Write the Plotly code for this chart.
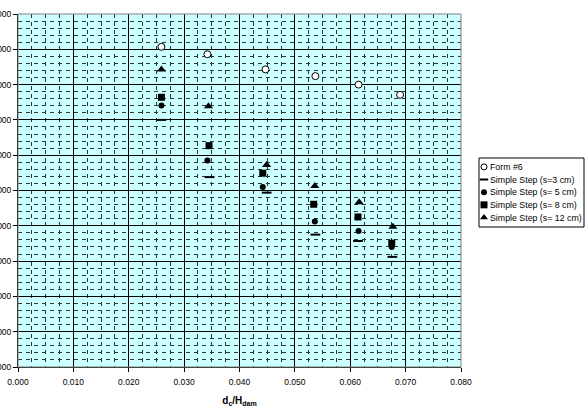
import plotly.graph_objects as go

# Data
form6_x = [0.0259, 0.0342, 0.0447, 0.0537, 0.0615, 0.0690]
form6_y = [90.7, 88.6, 84.3, 82.4, 80.0, 77.1]

s3_x = [0.0259, 0.0346, 0.0449, 0.0537, 0.0614, 0.0676]
s3_y = [70.0, 53.8, 49.4, 37.5, 35.7, 31.2]

s5_x = [0.0259, 0.0342, 0.0442, 0.0536, 0.0615, 0.0675]
s5_y = [74.1, 58.5, 51.0, 41.2, 38.5, 34.0]

s8_x = [0.0259, 0.0345, 0.0442, 0.0534, 0.0614, 0.0675]
s8_y = [76.4, 62.7, 54.9, 46.1, 42.5, 35.1]

s12_x = [0.0259, 0.0344, 0.0449, 0.0536, 0.0616, 0.0677]
s12_y = [84.3, 73.9, 57.2, 51.3, 46.7, 39.7]

series_names = ["Form #6", "Simple Step (s=3 cm)", "Simple Step (s= 5 cm)",
                "Simple Step (s= 8 cm)", "Simple Step (s= 12 cm)"]

x_ticks = [0.0, 0.01, 0.02, 0.03, 0.04, 0.05, 0.06, 0.07, 0.08]
y_ticks = [0, 10, 20, 30, 40, 50, 60, 70, 80, 90, 100]

FONT = "Arial, Liberation Sans, sans-serif"

markers = [
    dict(symbol="circle", size=7, color="white", line=dict(color="black", width=1)),
    dict(symbol="line-ew", size=7, color="black", line=dict(color="black", width=2)),
    dict(symbol="circle", size=6, color="black", line=dict(width=0)),
    dict(symbol="square", size=7, color="black", line=dict(width=0)),
    dict(symbol="triangle-up", size=8, color="black", line=dict(width=0)),
]
legend_markers = [
    dict(symbol="circle", size=6, color="white", line=dict(color="black", width=1)),
    dict(symbol="line-ew", size=6, color="black", line=dict(color="black", width=2)),
    dict(symbol="circle", size=6, color="black", line=dict(width=0)),
    dict(symbol="square", size=7, color="black", line=dict(width=0)),
    dict(symbol="triangle-up", size=7, color="black", line=dict(width=0)),
]
xs = [form6_x, s3_x, s5_x, s8_x, s12_x]
ys = [form6_y, s3_y, s5_y, s8_y, s12_y]

fig = go.Figure()
for name, x, y, m in zip(series_names, xs, ys, markers):
    fig.add_trace(go.Scatter(x=x, y=y, mode="markers", name=name, marker=m,
                             showlegend=False, xaxis="x", yaxis="y"))

# custom compact legend (Excel style) on an auxiliary axis pair
for i, (name, m) in enumerate(zip(series_names, legend_markers)):
    fig.add_trace(go.Scatter(x=[5], y=[i], mode="markers", marker=m,
                             showlegend=False, hoverinfo="skip",
                             xaxis="x2", yaxis="y2"))
    fig.add_annotation(x=9.0, y=i, xref="x2", yref="y2", text=name,
                       showarrow=False, xanchor="left", yanchor="middle",
                       font=dict(size=8.8, family=FONT, color="black"))

W, H = 587, 410
L, R, T, B = 18, 3, 14, 43
pw = W - L - R
plot_right = 461
leg_l, leg_r, leg_t, leg_b = 479, 584, 158, 227
ph = H - T - B

fig.add_shape(type="rect", xref="x2 domain", yref="y2 domain", x0=0, x1=1, y0=0, y1=1,
              line=dict(color="black", width=1), fillcolor="white", layer="below")

fig.update_layout(
    width=W, height=H,
    margin=dict(l=L, r=R, t=T, b=B),
    paper_bgcolor="white",
    plot_bgcolor="#CCFFFF",
    font=dict(family=FONT, size=8.5, color="black"),
    showlegend=False,
    xaxis=dict(domain=[0, (plot_right - L) / pw],
               range=[0, 0.08], tickvals=x_ticks, tickformat=".3f",
               showline=True, linecolor="black", linewidth=1,
               ticks="outside", ticklen=4, tickcolor="black",
               ticklabelstandoff=3,
               showgrid=True, gridcolor="black", gridwidth=1,
               zeroline=False, automargin=False,
               minor=dict(dtick=0.0025, showgrid=True, gridcolor="#2a3a3a",
                          griddash="4px,4px", gridwidth=1),
               title=dict(text="<b>d<sub>c</sub>/H<sub>dam</sub></b>",
                          font=dict(size=10, family=FONT), standoff=10)),
    yaxis=dict(range=[0, 100], tickvals=y_ticks, tickformat=".3f",
               showline=True, linecolor="black", linewidth=1,
               ticks="outside", ticklen=4, tickcolor="black",
               showgrid=True, gridcolor="black", gridwidth=1,
               zeroline=False, automargin=False,
               minor=dict(dtick=2, showgrid=True, gridcolor="#2a3a3a",
                          griddash="4px,4px", gridwidth=1)),
    xaxis2=dict(domain=[(leg_l - L) / pw, (leg_r - L) / pw], anchor="y2",
                range=[0, leg_r - leg_l], visible=False, fixedrange=True),
    yaxis2=dict(domain=[(H - B - leg_b) / ph, (H - B - leg_t) / ph], anchor="x2",
                range=[4.75, -0.7], visible=False, fixedrange=True),
)
# plot-area grey border (top/right)
fig.add_shape(type="rect", xref="x domain", yref="y domain", x0=0, y0=0, x1=1, y1=1,
              line=dict(color="#808080", width=1), fillcolor="rgba(0,0,0,0)", layer="above")

fig.write_html("out.html")
